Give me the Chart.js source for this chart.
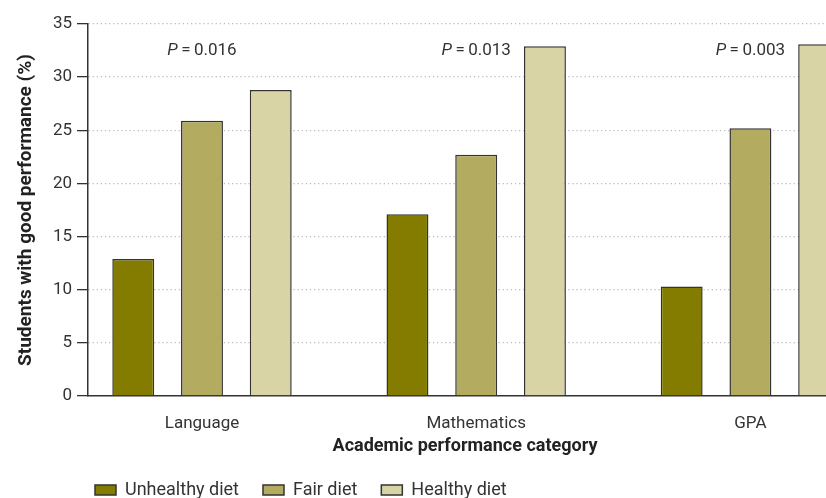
<!DOCTYPE html>
<html>
<head>
<meta charset="utf-8">
<script src="https://cdn.jsdelivr.net/npm/chart.js@4.4.1/dist/chart.umd.min.js"></script>
<style>
  html, body { margin: 0; padding: 0; background: #fff; overflow: hidden; }
  #wrap { width: 860px; height: 498px; }
</style>
</head>
<body>
<div id="wrap"><canvas id="myChart" width="860" height="498"></canvas></div>
<script>
const categories = ['Language', 'Mathematics', 'GPA'];
const unhealthy = [12.9, 17.1, 10.3];
const fair = [25.9, 22.7, 25.2];
const healthy = [28.8, 32.9, 33.1];
const pValues = ['0.016', '0.013', '0.003'];
const yTicks = [0, 5, 10, 15, 20, 25, 30, 35];

const FONT = "Roboto, 'Liberation Sans', sans-serif";

const toPoints = (arr) => arr.map((v, i) => ({ x: i, y: v }));

// P-value labels above each category
const pLabels = {
    id: 'pLabels',
    afterDatasetsDraw(chart) {
        const { ctx, scales: { x, y } } = chart;
        const yPix = y.getPixelForValue(32.5);
        ctx.save();
        ctx.fillStyle = '#333';
        ctx.textBaseline = 'middle';
        ctx.textAlign = 'left';
        pValues.forEach((p, i) => {
            const rest = '\u2009=\u2009' + p;
            ctx.font = 'italic 17px ' + FONT;
            const w1 = ctx.measureText('P').width;
            ctx.font = '17px ' + FONT;
            const w2 = ctx.measureText(rest).width;
            const left = x.getPixelForValue(i) - (w1 + w2) / 2;
            ctx.font = 'italic 17px ' + FONT;
            ctx.fillText('P', left, yPix);
            ctx.font = '17px ' + FONT;
            ctx.fillText(rest, left + w1, yPix);
        });
        ctx.restore();
    }
};

// move the legend to bottom-left like the original
const legendPlace = {
    id: 'legendPlace',
    afterLayout(chart) {
        chart.legend.left = 71;
        chart.legend.top = 457;
    }
};

const ctx = document.getElementById('myChart');

new Chart(ctx, {
    type: 'bar',
    data: {
        datasets: [
            {
                label: 'Unhealthy diet',
                data: toPoints(unhealthy),
                backgroundColor: '#837c00',
            },
            {
                label: 'Fair diet',
                data: toPoints(fair),
                backgroundColor: '#b3ac60',
            },
            {
                label: 'Healthy diet',
                data: toPoints(healthy),
                backgroundColor: '#d8d4a6',
            }
        ]
    },
    options: {
        responsive: false,
        animation: false,
        layout: {
            padding: { top: 24, right: 18, left: 0, bottom: 0 }
        },
        datasets: {
            bar: {
                borderColor: '#333',
                borderWidth: 1.5,
                categoryPercentage: 0.752,
                barPercentage: 0.61,
            }
        },
        plugins: {
            tooltip: { enabled: false },
            legend: {
                position: 'bottom',
                align: 'start',
                maxHeight: 26,
                labels: {
                    boxWidth: 21,
                    boxHeight: 10,
                    padding: 24,
                    color: '#333',
                    font: { family: FONT, size: 18 }
                }
            }
        },
        scales: {
            x: {
                type: 'linear',
                offset: false,
                min: -0.4157,
                max: 2.334,
                afterBuildTicks: (scale) => {
                    scale.ticks = categories.map((c, i) => ({ value: i }));
                },
                afterFit: (scale) => { scale.height = 76; },
                grid: { display: false, drawTicks: false },
                border: { display: true, color: '#333', width: 1.5 },
                ticks: {
                    padding: 18,
                    maxRotation: 0,
                    autoSkip: false,
                    color: '#333',
                    font: { family: FONT, size: 17 },
                    callback: (value) => categories[value]
                },
                title: {
                    display: true,
                    text: 'Academic performance category',
                    color: '#222',
                    font: { family: FONT, size: 18, weight: 'bold' },
                    padding: { top: 0, bottom: 15 }
                }
            },
            y: {
                min: 0,
                max: 35,
                afterBuildTicks: (scale) => {
                    scale.ticks = yTicks.map((v) => ({ value: v }));
                },
                afterFit: (scale) => { scale.width = 88; },
                grid: {
                    color: (c) => (c.tick && c.tick.value === 0) ? 'rgba(0,0,0,0)' : '#bdbdbd',
                    lineWidth: 1.3,
                    tickLength: 11,
                    tickColor: '#333',
                    tickWidth: 1.3,
                    tickBorderDash: []
                },
                border: { display: true, color: '#333', width: 1.5, dash: [1.3, 2.8] },
                ticks: {
                    padding: 5,
                    color: '#333',
                    font: { family: FONT, size: 17 }
                },
                title: {
                    display: true,
                    text: 'Students with good performance (%)',
                    color: '#222',
                    font: { family: FONT, size: 19, weight: 'bold' },
                    padding: { top: 14.6, bottom: 0 }
                }
            }
        }
    },
    plugins: [pLabels, legendPlace]
});
</script>
</body>
</html>
